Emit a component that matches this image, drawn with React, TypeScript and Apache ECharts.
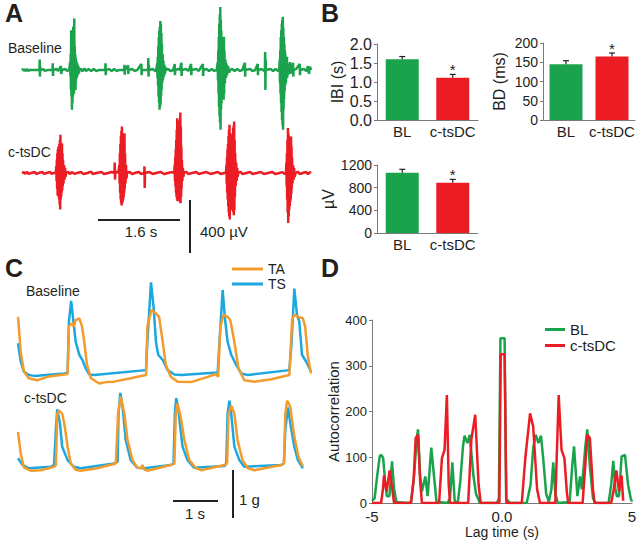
import React, { useEffect, useRef } from 'react';
import * as echarts from 'echarts';

const FONT = 'Liberation Sans, Arial, Helvetica, sans-serif';
const TXT = '#231f20';
const AX = '#7a7a7a';

const GREEN = '#1ba24c';
const RED = '#ec1c24';
const ORANGE = '#f39b2c';
const BLUE = '#1ba8e0';

// ---------- Panel A: EMG traces (t in s, amplitude in µV) ----------
const emgBaseline: [number, number][] = [
  [0, 0], [0.02, 8], [0.03, -8], [0.05, 6], [0.07, -7], [0.1, 8], [0.12, -8], [0.15, 0],
  [0.34, 0], [0.345, 80], [0.35, -50], [0.355, 30], [0.36, 0],
  [0.42, 7], [0.44, -7], [0.5, 0],
  [0.595, 0], [0.6, 50], [0.605, -45], [0.61, 0],
  [0.68, 8], [0.7, -8], [0.76, 30], [0.765, -30], [0.78, 0], [0.85, 7], [0.88, -7], [0.92, 0],
  [0.93, 0], [0.94, 60], [0.945, -50], [0.95, 120], [0.955, -150], [0.96, 302], [0.965, -200], [0.97, 250],
  [0.975, -302], [0.98, 200], [0.985, -250], [0.99, 280], [0.995, -200], [1.0, 330], [1.005, -150],
  [1.01, 300], [1.015, -180], [1.02, 390], [1.025, -151], [1.03, 180], [1.035, -120], [1.04, 120],
  [1.045, -151], [1.05, 90], [1.055, -80], [1.06, 70], [1.07, -60], [1.08, 50], [1.09, -40], [1.1, 30],
  [1.11, -25], [1.12, 0],
  [1.15, 10], [1.18, -10], [1.22, 12], [1.25, -8], [1.3, 7], [1.35, -7], [1.4, 8], [1.45, -8], [1.5, 0],
  [1.625, 0], [1.63, 50], [1.635, -40], [1.64, 0],
  [1.7, 7], [1.75, -7], [1.8, 8], [1.85, -7], [1.9, 0],
  [1.995, 0], [2.0, 40], [2.005, -35], [2.01, 0], [2.07, 35], [2.075, -30], [2.08, 0],
  [2.15, 7], [2.2, -7], [2.25, 0],
  [2.33, 45], [2.335, -40], [2.34, 0],
  [2.46, 0], [2.465, 90], [2.47, -50], [2.475, 40], [2.48, 0],
  [2.55, 8], [2.6, -8], [2.62, 0],
  [2.63, 0], [2.64, 50], [2.645, -60], [2.65, 100], [2.655, -120], [2.66, 180], [2.665, -200], [2.67, 250],
  [2.675, -250], [2.68, 300], [2.685, -302], [2.69, 330], [2.695, -280], [2.7, 372], [2.705, -260],
  [2.71, 350], [2.715, -200], [2.72, 280], [2.725, -150], [2.73, 200], [2.735, -100], [2.745, 120],
  [2.75, -80], [2.76, 70], [2.77, -50], [2.78, 40], [2.79, -30], [2.8, 20], [2.81, 0],
  [2.85, 8], [2.9, -8], [2.95, 0],
  [2.98, 45], [2.985, -40], [2.99, 0],
  [3.05, 8], [3.08, 0], [3.11, 55], [3.115, -45], [3.12, 0],
  [3.2, 7], [3.25, -7], [3.3, 45], [3.305, -40], [3.31, 0],
  [3.4, 8], [3.45, -7], [3.53, 45], [3.535, -45], [3.54, 0],
  [3.6, 8], [3.65, -8], [3.7, 7], [3.75, -7], [3.8, 0],
  [3.81, 0], [3.82, 60], [3.825, -80], [3.83, 150], [3.835, -180], [3.84, 250], [3.845, -280], [3.85, 350],
  [3.855, -350], [3.86, 420], [3.865, -400], [3.87, 478], [3.875, -453], [3.88, 380], [3.885, -300],
  [3.89, 300], [3.895, -250], [3.9, 200], [3.905, -180], [3.91, 180], [3.915, -150], [3.92, 150],
  [3.925, -200], [3.93, 220], [3.935, -226], [3.94, 252], [3.945, -180], [3.95, 150], [3.96, -100],
  [3.97, 80], [3.98, -60], [3.99, 50], [4.0, -40], [4.02, 30], [4.04, -20], [4.06, 0],
  [4.1, 8], [4.15, -8], [4.2, 7], [4.25, -7], [4.3, 0],
  [4.35, 55], [4.355, -50], [4.36, 0],
  [4.45, 8], [4.5, -8], [4.55, 0], [4.6, 45], [4.605, -40], [4.61, 0],
  [4.68, 7], [4.72, -7],
  [4.74, 0], [4.745, 136], [4.75, -151], [4.755, 80], [4.76, 0],
  [4.85, 8], [4.9, -8], [4.95, 7], [5.0, -7],
  [5.02, 0], [5.03, 80], [5.035, -100], [5.04, 150], [5.045, -180], [5.05, 250], [5.055, -250], [5.06, 300],
  [5.065, -320], [5.07, 350], [5.075, -380], [5.08, 380], [5.085, -420], [5.09, 403], [5.095, -453],
  [5.1, 320], [5.105, -300], [5.11, 250], [5.115, -220], [5.12, 200], [5.125, -160], [5.13, 150],
  [5.135, -120], [5.14, 120], [5.15, -100], [5.16, 80], [5.17, 100], [5.175, -60], [5.18, 50],
  [5.19, -40], [5.2, 40], [5.21, -30], [5.23, 60], [5.24, -30], [5.25, 0],
  [5.29, 55], [5.295, -50], [5.3, 0], [5.35, 8], [5.42, 45], [5.425, -40], [5.43, 0],
  [5.5, 8], [5.55, -8], [5.58, 30], [5.6, -30], [5.62, 25], [5.64, 0],
];

const emgCtsdc: [number, number][] = [
  [0, 0], [0.04, 7], [0.06, -7], [0.1, 8], [0.13, -7], [0.18, 0], [0.25, 8], [0.28, -8], [0.32, 0],
  [0.4, 7], [0.43, -7], [0.48, 0], [0.55, 8], [0.58, -7], [0.62, 0],
  [0.66, 0], [0.67, 50], [0.675, -60], [0.68, 100], [0.685, -120], [0.69, 150], [0.695, -170], [0.7, 180],
  [0.705, -150], [0.71, 200], [0.715, -180], [0.72, 170], [0.725, -200], [0.73, 220], [0.735, -240],
  [0.74, 250], [0.745, -277], [0.75, 289], [0.755, -200], [0.76, 180], [0.765, -180], [0.77, 200],
  [0.775, -150], [0.78, 226], [0.785, -130], [0.79, 150], [0.795, -100], [0.8, 100], [0.81, -80],
  [0.82, 60], [0.83, -50], [0.84, 40], [0.85, -30], [0.86, 0],
  [0.9, 10], [0.93, -8], [0.98, 7], [1.02, -7], [1.08, 0], [1.15, 8], [1.2, -7], [1.28, 0],
  [1.35, 10], [1.38, -8], [1.45, 0], [1.55, 7], [1.6, -7], [1.68, 0], [1.75, 8],
  [1.805, 0], [1.81, 80], [1.815, -50], [1.82, 0], [1.86, 8], [1.88, 0],
  [1.89, 0], [1.9, 60], [1.905, -80], [1.91, 150], [1.915, -150], [1.92, 220], [1.925, -200], [1.93, 280],
  [1.935, -230], [1.94, 320], [1.945, -247], [1.95, 352], [1.955, -230], [1.96, 300], [1.965, -220],
  [1.97, 280], [1.975, -200], [1.98, 260], [1.985, -180], [1.99, 250], [1.995, -150], [2.0, 302],
  [2.005, -120], [2.01, 150], [2.02, -80], [2.03, 60], [2.04, -40], [2.05, 0],
  [2.1, 8], [2.15, -8], [2.2, 0], [2.28, 8], [2.32, -7],
  [2.385, 0], [2.39, 50], [2.395, -113], [2.4, 0],
  [2.48, 8], [2.55, -7], [2.62, 0], [2.7, 8], [2.78, -8], [2.85, 0], [2.92, 7],
  [2.97, 0], [2.98, 60], [2.985, -60], [2.99, 120], [2.995, -100], [3.0, 180], [3.005, -150], [3.01, 250],
  [3.015, -180], [3.02, 330], [3.025, -200], [3.03, 415], [3.035, -214], [3.04, 300], [3.045, -200],
  [3.05, 280], [3.055, -180], [3.06, 300], [3.065, -190], [3.07, 350], [3.075, -200], [3.08, 400],
  [3.085, -220], [3.09, 458], [3.095, -230], [3.1, 350], [3.105, -180], [3.11, 200], [3.115, -120],
  [3.12, 100], [3.13, -60], [3.14, 40], [3.15, -30], [3.16, 0],
  [3.2, 10], [3.25, -8], [3.32, 0], [3.4, 8], [3.45, -7], [3.52, 0], [3.6, 7], [3.68, -7], [3.75, 0],
  [3.82, 8], [3.88, -8], [3.94, 0],
  [3.98, 0], [3.99, 60], [3.995, -80], [4.0, 120], [4.005, -150], [4.01, 180], [4.015, -200], [4.02, 220],
  [4.025, -250], [4.03, 280], [4.035, -300], [4.04, 330], [4.045, -330], [4.05, 365], [4.055, -352],
  [4.06, 300], [4.065, -280], [4.07, 250], [4.075, -220], [4.08, 200], [4.085, -200], [4.09, 220],
  [4.095, -230], [4.1, 260], [4.105, -260], [4.11, 300], [4.115, -290], [4.12, 340], [4.125, -300],
  [4.13, 360], [4.135, -320], [4.14, 390], [4.145, -280], [4.15, 250], [4.155, -180], [4.16, 150],
  [4.17, -100], [4.18, 80], [4.19, -60], [4.2, 40], [4.21, -30], [4.22, 0],
  [4.26, 10], [4.3, -8], [4.38, 0], [4.45, 8], [4.5, -7], [4.58, 0], [4.66, 8], [4.72, -7], [4.8, 0],
  [4.88, 8], [4.95, -8], [5.02, 0], [5.08, 7], [5.12, -7],
  [5.15, 0], [5.16, 80], [5.165, -100], [5.17, 150], [5.175, -200], [5.18, 250], [5.185, -300], [5.19, 340],
  [5.195, -378], [5.2, 300], [5.205, -330], [5.21, 280], [5.215, -280], [5.22, 250], [5.225, -250],
  [5.23, 240], [5.235, -220], [5.24, 260], [5.245, -200], [5.25, 277], [5.255, -160], [5.26, 200],
  [5.265, -120], [5.27, 120], [5.28, -80], [5.29, 60], [5.3, -50], [5.31, 40], [5.32, -30], [5.34, 0],
  [5.38, 10], [5.42, -8], [5.48, 0], [5.54, 8], [5.58, -8], [5.62, 7], [5.64, 0],
];

// ---------- Panel B: bar summaries ----------
const groups = ['BL', 'c-tsDC'];
const barColors = [GREEN, RED];
const ibiMean = [1.6, 1.11];
const ibiErr = [0.07, 0.09];
const bdMean = [145, 165];
const bdErr = [9, 9];
const ampMean = [1065, 887];
const ampErr = [59, 59];
const significant = [0, 1];

// ---------- Panel C: force traces (t in s, force in g) ----------
const tsBaseline: [number, number][] = [
  [0.0, 0.87], [0.06, 0.49], [0.13, 0.28], [0.24, 0.21], [0.36, 0.19], [1.02, 0.24], [1.1, 0.25],
  [1.13, 1.32], [1.18, 1.75], [1.23, 1.32], [1.28, 0.9], [1.36, 0.63], [1.43, 0.52], [1.5, 0.35],
  [1.58, 0.22], [1.69, 0.21], [2.84, 0.31], [2.87, 0.9], [2.95, 2.14], [3.01, 1.6], [3.06, 0.9],
  [3.11, 0.63], [3.21, 0.52], [3.32, 0.31], [3.47, 0.22], [3.62, 0.21], [4.43, 0.26], [4.47, 0.9],
  [4.54, 1.98], [4.59, 1.39], [4.65, 0.9], [4.73, 0.63], [4.84, 0.42], [4.95, 0.24], [5.1, 0.21],
  [6.02, 0.31], [6.07, 0.9], [6.13, 2.01], [6.19, 1.46], [6.24, 1.32], [6.3, 0.63], [6.39, 0.49],
  [6.5, 0.28],
];
const taBaseline: [number, number][] = [
  [0.0, 1.42], [0.06, 0.7], [0.13, 0.28], [0.24, 0.14], [0.43, 0.1], [0.65, 0.17], [1.02, 0.22],
  [1.1, 0.23], [1.13, 1.22], [1.18, 1.28], [1.24, 1.22], [1.28, 1.35], [1.36, 1.39], [1.42, 1.22],
  [1.47, 0.9], [1.53, 0.42], [1.62, 0.14], [1.8, 0.03], [1.95, 0.06], [2.13, 0.07], [2.5, 0.14],
  [2.84, 0.21], [2.87, 1.22], [2.96, 1.56], [3.06, 1.49], [3.13, 1.42], [3.21, 0.9], [3.28, 0.42],
  [3.39, 0.17], [3.54, 0.07], [3.84, 0.06], [4.21, 0.17], [4.39, 0.23], [4.44, 0.17], [4.49, 1.22],
  [4.56, 1.46], [4.65, 1.42], [4.71, 1.35], [4.8, 0.9], [4.89, 0.35], [5.02, 0.1], [5.24, 0.07],
  [5.62, 0.12], [6.02, 0.21], [6.08, 1.35], [6.13, 1.47], [6.21, 1.42], [6.32, 1.39], [6.37, 1.22],
  [6.43, 0.59], [6.5, 0.24],
];
const tsCtsdc: [number, number][] = [
  [0.0, 0.35], [0.1, 0.21], [0.24, 0.14], [0.73, 0.17], [0.8, 0.21], [0.84, 0.94], [0.87, 1.37],
  [0.93, 1.08], [0.98, 0.59], [1.1, 0.31], [1.24, 0.17], [1.39, 0.14], [2.13, 0.24], [2.21, 0.28],
  [2.23, 1.28], [2.27, 1.71], [2.32, 1.42], [2.39, 0.73], [2.5, 0.31], [2.65, 0.15], [2.8, 0.14],
  [3.39, 0.21], [3.45, 0.24], [3.48, 1.28], [3.51, 1.6], [3.56, 1.33], [3.65, 0.59], [3.76, 0.31],
  [3.91, 0.15], [4.58, 0.19], [4.62, 0.24], [4.65, 1.28], [4.69, 1.55], [4.73, 1.28], [4.8, 0.59],
  [4.91, 0.31], [5.02, 0.17], [5.84, 0.21], [5.9, 0.24], [5.93, 0.94], [5.99, 1.41], [6.04, 1.08],
  [6.13, 0.59], [6.21, 0.31], [6.32, 0.14],
];
const taCtsdc: [number, number][] = [
  [0.0, 0.9], [0.06, 0.45], [0.13, 0.16], [0.28, 0.09], [0.5, 0.1], [0.8, 0.17], [0.84, 0.21],
  [0.87, 1.28], [0.91, 1.34], [0.98, 1.28], [1.04, 1.0], [1.1, 0.59], [1.17, 0.24], [1.28, 0.11],
  [1.39, 0.09], [1.76, 0.14], [2.17, 0.24], [2.22, 1.28], [2.28, 1.63], [2.36, 1.28], [2.43, 0.73],
  [2.54, 0.31], [2.65, 0.15], [2.73, 0.14], [2.76, 0.21], [2.8, 0.12], [2.87, 0.09], [3.39, 0.21],
  [3.47, 0.24], [3.5, 1.28], [3.54, 1.49], [3.61, 1.21], [3.69, 0.73], [3.8, 0.31], [3.95, 0.14],
  [4.06, 0.1], [4.58, 0.21], [4.64, 0.24], [4.67, 1.28], [4.73, 1.44], [4.8, 1.28], [4.87, 0.73],
  [4.98, 0.31], [5.1, 0.14], [5.24, 0.1], [5.84, 0.21], [5.9, 0.24], [5.93, 1.28], [5.97, 1.55],
  [6.04, 1.42], [6.13, 0.8], [6.22, 0.38], [6.32, 0.18],
];

// ---------- Panel D: autocorrelation ----------
const acBL: [number, number][] = [
  [-5, 5], [-4.9, 10], [-4.8, 60], [-4.7, 103], [-4.64, 105], [-4.57, 98], [-4.5, 50], [-4.43, 15],
  [-4.33, 15], [-4.23, 91], [-4.15, 30], [-4.06, 2], [-3.6, 0], [-3.5, 2], [-3.38, 60], [-3.28, 140],
  [-3.23, 161], [-3.15, 60], [-3.08, 25], [-2.95, 58], [-2.86, 15], [-2.72, 121], [-2.6, 50],
  [-2.52, 3], [-2.1, 0], [-2.0, 10], [-1.91, 89], [-1.82, 5], [-1.7, 0], [-1.6, 50], [-1.5, 124],
  [-1.44, 147], [-1.33, 131], [-1.24, 149], [-1.1, 60], [-1.0, 20], [-0.85, 0], [-0.2, 0],
  [-0.12, 10], [-0.06, 360], [0.1, 360], [0.16, 10], [0.22, 5], [0.3, 0], [0.95, 0], [1.1, 40],
  [1.2, 120], [1.3, 149], [1.4, 131], [1.5, 147], [1.58, 100], [1.7, 20], [1.8, 3], [1.9, 30],
  [1.97, 89], [2.05, 20], [2.15, 0], [2.6, 2], [2.7, 80], [2.77, 124], [2.9, 15], [3.0, 58],
  [3.07, 30], [3.2, 120], [3.28, 161], [3.38, 80], [3.5, 10], [3.6, 0], [4.1, 0], [4.2, 40],
  [4.28, 92], [4.36, 30], [4.42, 15], [4.5, 15], [4.6, 102], [4.73, 105], [4.85, 40], [4.95, 10],
  [5.0, 3],
];
const acCtsdc: [number, number][] = [
  [-5, 0], [-4.65, 0], [-4.58, 30], [-4.54, 60], [-4.44, 25], [-4.32, 71], [-4.22, 30], [-4.15, 0],
  [-3.5, 0], [-3.4, 50], [-3.32, 142], [-3.23, 149], [-3.15, 50], [-3.08, 0], [-2.42, 0],
  [-2.31, 98], [-2.21, 116], [-2.12, 236], [-2.05, 40], [-2.0, 0], [-1.3, 0], [-1.18, 138],
  [-1.03, 193], [-0.9, 40], [-0.82, 0], [-0.1, 0], [-0.05, 325], [0.1, 325], [0.17, 0], [0.76, 0],
  [0.9, 100], [1.08, 196], [1.2, 167], [1.35, 30], [1.46, 0], [2.05, 0], [2.18, 236], [2.29, 116],
  [2.4, 98], [2.5, 20], [2.55, 0], [3.1, 0], [3.2, 80], [3.28, 149], [3.38, 142], [3.5, 30],
  [3.56, 0], [4.2, 0], [4.3, 30], [4.4, 71], [4.5, 25], [4.6, 60], [4.66, 5],
];

function hiddenAxis(gridIndex: number, min: number, max: number) {
  return { type: 'value', gridIndex, min, max, show: false, splitLine: { show: false } };
}

function barYAxis(gridIndex: number, max: number, interval: number, name: string, nameGap: number, fs: number, dec: number) {
  return {
    type: 'value', gridIndex, min: 0, max, interval, name, nameLocation: 'middle', nameGap,
    nameTextStyle: { fontSize: 16, color: TXT, fontFamily: FONT },
    axisLine: { show: true, onZero: false, lineStyle: { color: AX, width: 1 } },
    axisTick: { show: true, length: 3, lineStyle: { color: AX } },
    axisLabel: { fontSize: fs, color: TXT, fontFamily: FONT, margin: 5, formatter: (v: number) => v.toFixed(dec) },
    splitLine: { show: false },
  };
}

function barXAxis(gridIndex: number) {
  return {
    type: 'category', gridIndex, data: groups,
    axisLine: { show: true, onZero: false, lineStyle: { color: AX, width: 1 } },
    axisTick: { show: false },
    axisLabel: { fontSize: 15, color: TXT, fontFamily: FONT, margin: 4, interval: 0, hideOverlap: false },
  };
}

function barSeries(idx: number, means: number[], name: string) {
  return {
    type: 'bar', name, xAxisIndex: idx, yAxisIndex: idx, barWidth: 33, silent: true,
    data: means.map((v, i) => ({ value: v, itemStyle: { color: barColors[i] } })),
  };
}

function errSeries(idx: number, means: number[], errs: number[], name: string) {
  return {
    type: 'custom', name, xAxisIndex: idx, yAxisIndex: idx, silent: true, z: 5,
    data: means.map((m, i) => [groups[i], m, errs[i], significant[i]]),
    renderItem: (_p: any, api: any) => {
      const cat = api.value(0);
      const top = api.value(1);
      const err = api.value(2);
      const sig = api.value(3);
      const p0 = api.coord([cat, top]);
      const p1 = api.coord([cat, top + err]);
      const children: any[] = [
        { type: 'line', shape: { x1: p0[0], y1: p0[1], x2: p1[0], y2: p1[1] }, style: { stroke: '#222', lineWidth: 1.2 } },
        { type: 'line', shape: { x1: p1[0] - 3, y1: p1[1], x2: p1[0] + 3, y2: p1[1] }, style: { stroke: '#222', lineWidth: 1.2 } },
      ];
      if (sig) {
        children.push({
          type: 'text',
          style: { text: '*', x: p1[0], y: p1[1] - 5, align: 'center', verticalAlign: 'middle', font: `15px ${FONT}`, fill: TXT },
        });
      }
      return { type: 'group', children };
    },
  };
}

function traceSeries(idx: number, data: [number, number][], color: string, width: number, name?: string) {
  return {
    type: 'line', name, xAxisIndex: idx, yAxisIndex: idx, data, showSymbol: false, symbol: 'none',
    silent: true, color, itemStyle: { color }, lineStyle: { color, width },
  };
}

function label(text: string, x: number, y: number, size: number, align: string = 'left', bold = false) {
  return {
    type: 'text', x, y, silent: true,
    style: { text, align, verticalAlign: 'middle', font: `${bold ? 'bold ' : ''}${size}px ${FONT}`, fill: TXT },
  };
}

function bar(x1: number, y1: number, x2: number, y2: number) {
  return { type: 'line', silent: true, shape: { x1, y1, x2, y2 }, style: { stroke: '#222', lineWidth: 2 } };
}

export default function App() {
  const ref = useRef<HTMLDivElement>(null);
  useEffect(() => {
    if (!ref.current) return;
    const chart = echarts.init(ref.current, undefined, { renderer: 'svg' });
    const option: any = {
      animation: false,
      backgroundColor: '#ffffff',
      textStyle: { fontFamily: FONT },
      grid: [
        { left: 22, top: 4, width: 289, height: 132 },   // A baseline
        { left: 22, top: 107, width: 289, height: 132 }, // A c-tsDC
        { left: 377, top: 44, width: 101, height: 76 },  // B IBI
        { left: 543, top: 43, width: 92, height: 77 },   // B BD
        { left: 377, top: 165, width: 101, height: 68 }, // B amplitude
        { left: 18, top: 265, width: 293, height: 120 }, // C baseline
        { left: 18, top: 379, width: 293, height: 96 },  // C c-tsDC
        { left: 372, top: 320, width: 260, height: 183 },// D
      ],
      xAxis: [
        hiddenAxis(0, 0, 5.64),
        hiddenAxis(1, 0, 5.64),
        barXAxis(2),
        barXAxis(3),
        barXAxis(4),
        hiddenAxis(5, 0, 6.5),
        hiddenAxis(6, 0, 6.5),
        {
          type: 'value', gridIndex: 7, min: -5, max: 5, interval: 5,
          name: 'Lag time (s)', nameLocation: 'middle', nameGap: 22,
          nameTextStyle: { fontSize: 14, color: TXT, fontFamily: FONT },
          axisLine: { show: true, onZero: false, lineStyle: { color: AX, width: 1 } },
          axisTick: { show: false },
          axisLabel: { fontSize: 15, color: TXT, fontFamily: FONT, margin: 6, formatter: (v: number) => (v === 0 ? '0.0' : String(v)) },
          splitLine: { show: false },
        },
      ],
      yAxis: [
        hiddenAxis(0, -500, 500),
        hiddenAxis(1, -500, 500),
        barYAxis(2, 2, 0.5, 'IBI (s)', 32, 16, 1),
        barYAxis(3, 200, 50, 'BD (ms)', 36, 14, 0),
        barYAxis(4, 1200, 400, 'µV', 30, 14, 0),
        hiddenAxis(5, 0, 2.5),
        hiddenAxis(6, 0, 2),
        {
          type: 'value', gridIndex: 7, min: 0, max: 400, interval: 100,
          name: 'Autocorrelation', nameLocation: 'middle', nameGap: 28,
          nameTextStyle: { fontSize: 15, color: TXT, fontFamily: FONT },
          axisLine: { show: true, onZero: false, lineStyle: { color: AX, width: 1 } },
          axisTick: { show: true, length: 3, lineStyle: { color: AX } },
          axisLabel: { fontSize: 13, color: TXT, fontFamily: FONT, margin: 5 },
          splitLine: { show: false },
        },
      ],
      legend: [
        {
          data: ['TA', 'TS'], orient: 'vertical', left: 232, top: 262, padding: 0, itemGap: 1,
          icon: 'rect', itemWidth: 31, itemHeight: 3,
          textStyle: { fontSize: 14, color: TXT, fontFamily: FONT }, selectedMode: false,
        },
        {
          data: ['BL', 'c-tsDC'], orient: 'vertical', left: 545, top: 322, padding: 0, itemGap: 1,
          icon: 'rect', itemWidth: 20, itemHeight: 3,
          textStyle: { fontSize: 15, color: TXT, fontFamily: FONT }, selectedMode: false,
        },
      ],
      series: [
        traceSeries(0, emgBaseline, GREEN, 2.5),
        traceSeries(1, emgCtsdc, RED, 2.5),
        barSeries(2, ibiMean, 'IBI'),
        errSeries(2, ibiMean, ibiErr, 'IBI err'),
        barSeries(3, bdMean, 'BD'),
        errSeries(3, bdMean, bdErr, 'BD err'),
        barSeries(4, ampMean, 'Amp'),
        errSeries(4, ampMean, ampErr, 'Amp err'),
        traceSeries(5, tsBaseline, BLUE, 2.5, 'TS'),
        traceSeries(5, taBaseline, ORANGE, 2.5, 'TA'),
        traceSeries(6, tsCtsdc, BLUE, 2.5, 'TS'),
        traceSeries(6, taCtsdc, ORANGE, 2.5, 'TA'),
        traceSeries(7, acBL, GREEN, 2.5, 'BL'),
        traceSeries(7, acCtsdc, RED, 2.5, 'c-tsDC'),
      ],
      graphic: [
        label('A', 5, 13, 25, 'left', true),
        label('B', 321, 13, 25, 'left', true),
        label('C', 5, 268, 25, 'left', true),
        label('D', 321, 268, 25, 'left', true),
        label('Baseline', 8, 48, 14),
        label('c-tsDC', 8, 152, 14),
        bar(98, 220, 180, 220),
        bar(190, 200, 190, 253),
        label('1.6 s', 141, 231, 15, 'center'),
        label('400 µV', 200, 231, 15),
        label('Baseline', 26, 291, 14),
        label('c-tsDC', 24, 398, 14),
        bar(173, 501, 218, 501),
        bar(233, 470, 233, 518),
        label('1 s', 195, 513, 15, 'center'),
        label('1 g', 239, 499, 15),
      ],
    };
    chart.setOption(option);
    return () => chart.dispose();
  }, []);
  return <div ref={ref} style={{ position: 'fixed', left: 0, top: 0, width: 640, height: 542, background: '#fff' }} />;
}
